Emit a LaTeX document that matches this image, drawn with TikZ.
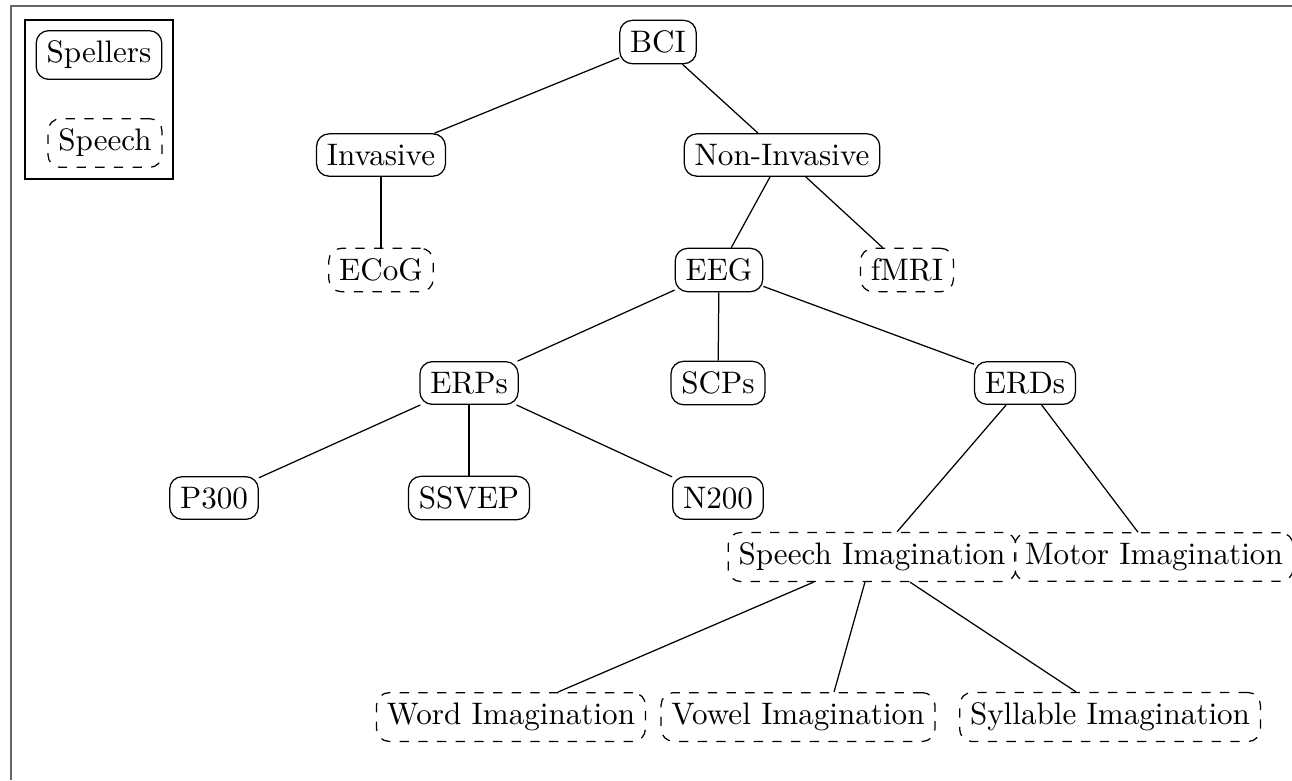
\documentclass[tikz,border=0pt]{standalone}
\usetikzlibrary{calc}
\begin{document}
\begin{tikzpicture}[x=0.3215pt, y=-0.3215pt,
  box/.style={draw, rounded corners=4pt, inner sep=3.333pt},
  solidbox/.style={box},
  dashbox/.style={box, dashed},
  link/.style={draw, line width=0.4pt}]
\useasboundingbox (0,0) rectangle (1292,780);

% outer frame (partly outside the page)
\draw[black!60, line width=0.7pt] (11,780) -- (11,6) -- (1292,6);

% legend
\node[draw, minimum width=148*0.3215pt, minimum height=159*0.3215pt] (legend) at (99,99.5) {};
\node[solidbox] (spellers) at (99,55) {Spellers};
\node[dashbox] (speech) at (105,143) {Speech};

% tree nodes
\node[solidbox] (bci) at (658,42) {BCI};
\node[solidbox] (inv) at (381,155) {Invasive};
\node[solidbox] (noninv) at (782,155) {Non-Invasive};
\node[dashbox] (ecog) at (381,270) {ECoG};
\node[solidbox] (eeg) at (719,270) {EEG};
\node[dashbox] (fmri) at (907,270) {fMRI};
\node[solidbox] (erps) at (469,383) {ERPs};
\node[solidbox] (scps) at (718,383) {SCPs};
\node[solidbox] (erds) at (1025,383) {ERDs};
\node[solidbox] (p300) at (214,498) {P300};
\node[solidbox] (ssvep) at (469,498) {SSVEP};
\node[solidbox] (n200) at (718,498) {N200};
\node[dashbox] (si) at (872,557) {Speech Imagination};
\node[dashbox] (mi) at (1154,557) {Motor Imagination};
\node[dashbox] (wi) at (511,717) {Word Imagination};
\node[dashbox] (vi) at (798,717) {Vowel Imagination};
\node[dashbox] (yi) at (1110,717) {Syllable Imagination};

% connectors
\draw[link] (bci) -- (inv);
\draw[link] (bci) -- (noninv);
\draw[link] (inv) -- (ecog);
\draw[link] (noninv) -- (eeg);
\draw[link] (noninv) -- (fmri);
\draw[link] (eeg) -- (erps);
\draw[link] (eeg) -- (scps);
\draw[link] (eeg) -- (erds);
\draw[link] (erps) -- (p300);
\draw[link] (erps) -- (ssvep);
\draw[link] (erps) -- (n200);
\draw[link] (erds) -- ($(si.north)+(25,0)$);
\draw[link] (erds) -- ($(mi.north)+(-16,0)$);
\draw[link] (si) -- ($(wi.north)+(47,0)$);
\draw[link] (si) -- ($(vi.north)+(36,0)$);
\draw[link] (si) -- ($(yi.north)+(-34,0)$);
\end{tikzpicture}
\end{document}
